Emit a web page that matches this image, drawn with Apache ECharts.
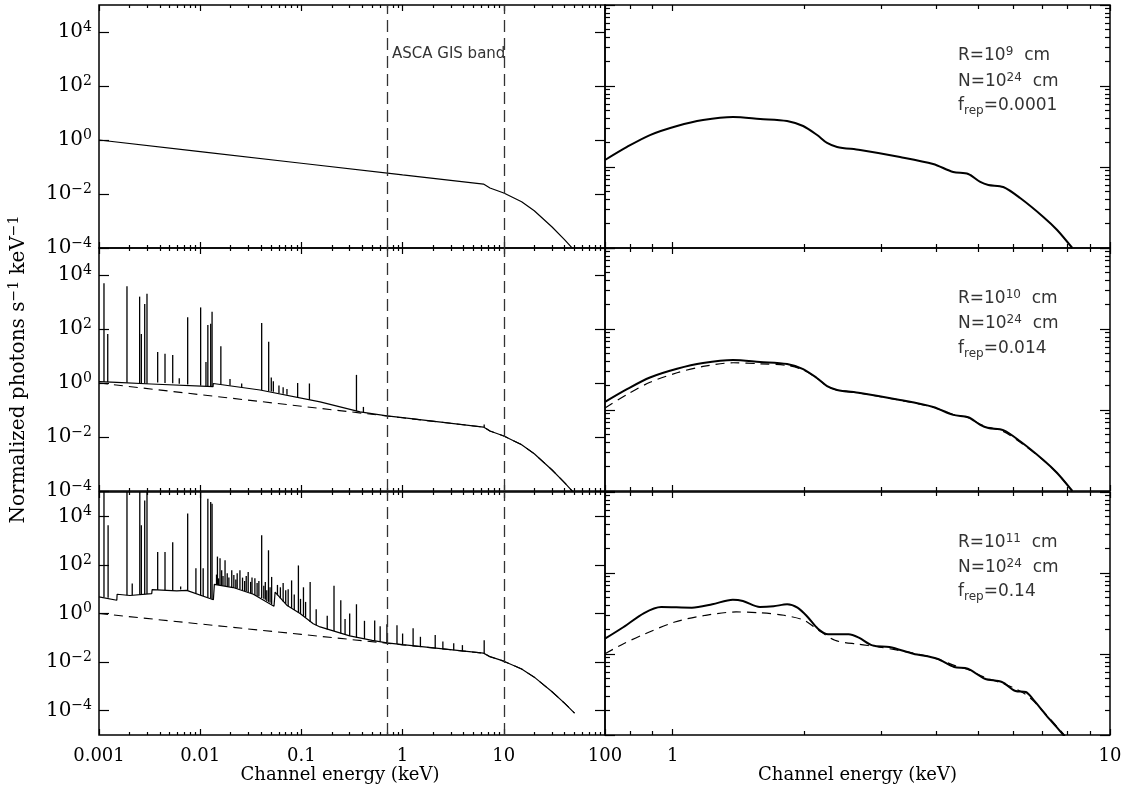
<!DOCTYPE html>
<html lang="en">
<head>
<meta charset="utf-8">
<title>Spectra</title>
<script src="https://cdn.jsdelivr.net/npm/echarts@6/dist/echarts.min.js"></script>
<style type="text/css">
  html, body { margin: 0; padding: 0; background: #fff; }
  #chart { width: 1125px; height: 790px; }
</style>
</head>
<body>
<div id="chart"></div>
<script type="text/javascript">
// ---- data ----
// left column: full band spectra (keV, normalized photons)
var contE = [0.001, 0.01, 0.1, 1, 6.3, 7.3, 10, 15, 20, 30, 40, 50];
var contV = [1.0, 0.37, 0.138, 0.0513, 0.0234, 0.0167, 0.0109, 0.0052, 0.0024, 6.0e-4, 2.0e-4, 8.0e-5];

var p2E = [0.001, 0.0015, 0.00327, 0.00328, 0.0134, 0.01345, 0.039, 0.153, 0.38, 0.7, 1, 6.3, 7.3, 10, 15, 20, 30, 40, 50];
var p2V = [1.12, 1.05, 0.92, 1.05, 0.73, 0.96, 0.55, 0.20, 0.085, 0.061, 0.052, 0.0234, 0.0167, 0.0109, 0.0052, 0.0024, 6.0e-4, 2.0e-4, 8.0e-5];
// emission lines, panel 2: energy, continuum level, peak
var s2E = [0.00112, 0.00122, 0.00189, 0.00252, 0.00262, 0.00283, 0.00298, 0.0038, 0.00449, 0.00535, 0.00621, 0.00752, 0.0101, 0.0114, 0.0119, 0.0127, 0.0131, 0.016, 0.0197, 0.0257, 0.0405, 0.0475, 0.0504, 0.0528, 0.06, 0.066, 0.072, 0.0918, 0.12, 0.35, 0.41, 6.4];
var s2B = [1.1, 1.1, 1.02, 0.97, 0.96, 0.95, 0.94, 1.04, 1.0, 0.97, 0.94, 0.88, 0.8, 0.76, 0.75, 0.74, 0.73, 0.88, 0.8, 0.68, 0.55, 0.5, 0.48, 0.47, 0.42, 0.4, 0.37, 0.3, 0.24, 0.09, 0.082, 0.023];
var s2T = [5000, 65, 3800, 1580, 65, 850, 2000, 14, 12, 11, 1.5, 270, 630, 6, 140, 155, 440, 23, 1.4, 0.95, 166, 34, 1.6, 1.15, 0.8, 0.7, 0.6, 1.0, 0.96, 2.0, 0.13, 0.029];

var p3E = [0.001, 0.0015, 0.00151, 0.00202, 0.00332, 0.00335, 0.00586, 0.0061, 0.00736, 0.0135, 0.0138, 0.0212, 0.0335, 0.0536, 0.055, 0.0717, 0.097, 0.131, 0.153, 0.3, 0.5, 0.7, 1, 6.3, 7.3, 10, 15, 20, 30, 40, 50];
var p3V = [4.8, 3.5, 6.2, 5.5, 6.6, 9.6, 8.5, 10, 8.9, 3.7, 15.8, 11.7, 6.2, 2.0, 7.6, 2.2, 1.0, 0.38, 0.28, 0.12, 0.078, 0.062, 0.052, 0.0234, 0.0167, 0.0109, 0.0052, 0.0024, 6.0e-4, 2.0e-4, 8.0e-5];
// strong lines, panel 3
var s3E = [0.00112, 0.00123, 0.00189, 0.00213, 0.00253, 0.00262, 0.00283, 0.00298, 0.0038, 0.00449, 0.00535, 0.00641, 0.00752, 0.00907, 0.0101, 0.0107, 0.0119, 0.0127, 0.0131, 0.0148, 0.0157, 0.0176, 0.0205, 0.0247, 0.0298, 0.0347, 0.0405, 0.0473, 0.0508, 0.08, 0.0934, 0.1048, 0.122, 0.21, 0.245, 0.35, 0.53, 0.7, 0.88, 1.27, 2.1, 3.9, 6.4];
var s3B = [4.7, 4.5, 5.6, 5.7, 5.9, 6.0, 6.2, 6.4, 9.3, 9.0, 8.6, 9.8, 8.7, 6.6, 5.6, 5.2, 4.5, 4.2, 3.9, 15, 14.5, 13.5, 12, 10, 7.6, 5.8, 4.3, 3.0, 2.4, 1.7, 1.1, 0.8, 0.45, 0.19, 0.15, 0.1, 0.075, 0.061, 0.055, 0.046, 0.037, 0.028, 0.0232];
var s3T = [3e5, 4300, 3e5, 17, 3e5, 4300, 45000, 3e5, 340, 340, 850, 13, 13000, 72, 3e5, 72, 53000, 39000, 33000, 220, 190, 155, 60, 60, 51, 28, 1650, 400, 32, 23, 95, 12, 20, 14, 3.5, 2.4, 0.52, 0.36, 0.33, 0.25, 0.13, 0.05, 0.08];
// weak line forest, panel 3
var w3E = [0.0145, 0.0152, 0.0163, 0.0168, 0.0185, 0.0192, 0.0215, 0.0225, 0.0232, 0.0262, 0.0275, 0.0285, 0.0315, 0.0325, 0.0365, 0.038, 0.0425, 0.044, 0.0455, 0.049, 0.058, 0.062, 0.066, 0.07, 0.074, 0.085, 0.098, 0.11, 0.14, 0.18, 0.27, 0.3, 0.42, 0.6, 1.0, 1.5, 2.5, 3.2];
var w3B = [15.2, 14.8, 14.3, 14, 13.2, 13, 11.5, 11, 10.6, 9, 8.4, 8, 6.8, 6.4, 5.3, 5, 4, 3.7, 3.3, 2.8, 5.6, 4.2, 3.1, 2.5, 2, 1.4, 0.95, 0.7, 0.33, 0.22, 0.13, 0.12, 0.09, 0.07, 0.052, 0.043, 0.035, 0.031];
var w3T = [40, 28, 60, 35, 45, 30, 38, 25, 45, 30, 22, 35, 20, 30, 18, 22, 14, 20, 9, 12, 15, 12, 18, 9, 10, 6, 4, 3, 1.5, 0.8, 0.6, 1.0, 0.5, 0.3, 0.15, 0.11, 0.07, 0.06];

// right column: folded through the GIS band
var r1E = [0.700, 0.786, 0.887, 1.023, 1.173, 1.374, 1.584, 1.826, 1.987, 2.139, 2.254, 2.376, 2.683, 3.31, 3.94, 4.38, 4.74, 5.05, 5.27, 5.70, 6.23, 7.04, 7.57, 8.20];
var r1V = [0.0122, 0.0177, 0.0248, 0.0321, 0.0380, 0.0414, 0.0392, 0.0370, 0.0321, 0.0248, 0.0198, 0.0177, 0.0162, 0.0133, 0.0109, 0.00867, 0.00820, 0.00653, 0.00600, 0.00566, 0.00414, 0.00242, 0.00167, 0.00100];
var r2V = [0.0126, 0.0181, 0.0252, 0.0323, 0.0380, 0.0413, 0.0391, 0.0369, 0.0320, 0.0247, 0.0197, 0.0177, 0.0162, 0.0133, 0.0109, 0.00870, 0.00815, 0.00655, 0.00600, 0.00565, 0.00412, 0.00242, 0.00167, 0.00100];
var r2D = [0.0106, 0.0155, 0.0220, 0.0288, 0.0345, 0.0383, 0.0372, 0.0356, 0.0313, 0.0245, 0.0197, 0.0176, 0.0161, 0.0132, 0.0108, 0.00880, 0.00805, 0.00665, 0.00610, 0.00545, 0.00400, 0.00240, 0.00167, 0.00100];
var r3E = [0.700, 0.772, 0.860, 0.941, 1.106, 1.232, 1.372, 1.447, 1.583, 1.701, 1.827, 1.929, 2.035, 2.148, 2.266, 2.525, 2.665, 2.862, 3.130, 3.550, 4.024, 4.402, 4.728, 5.174, 5.660, 6.081, 6.416, 6.650, 7.148, 7.543, 7.887];
var r3V = [0.01545, 0.02153, 0.03206, 0.03802, 0.03733, 0.04111, 0.04677, 0.04508, 0.03802, 0.03882, 0.04111, 0.03733, 0.02864, 0.02051, 0.01750, 0.01750, 0.01589, 0.01279, 0.01219, 0.01009, 0.00875, 0.00692, 0.00659, 0.00495, 0.00451, 0.00349, 0.00340, 0.00281, 0.00175, 0.00126, 0.00095];
var r3DE = [0.700, 0.772, 0.860, 1.011, 1.189, 1.396, 1.583, 1.796, 1.999, 2.148, 2.349, 2.665, 2.966, 3.550, 4.024, 4.402, 4.728, 5.174, 5.660, 6.081, 6.416, 6.650, 7.148, 7.543, 7.887];
var r3D = [0.01009, 0.01340, 0.01750, 0.02483, 0.03006, 0.03304, 0.03228, 0.03006, 0.02606, 0.01995, 0.01476, 0.01318, 0.01219, 0.01023, 0.00871, 0.00724, 0.00646, 0.00513, 0.00437, 0.00372, 0.00316, 0.00269, 0.00178, 0.00129, 0.00098];

var gisBand = [0.7, 10];

// ticks
var leftXMajor = [0.001, 0.01, 0.1, 1, 10, 100];
var leftYMajor = [1e-4, 1e-2, 1, 1e2, 1e4];
var rightXMajor = [1, 10];
var rightXMinor = [0.8, 0.9, 2, 3, 4, 5, 6, 7, 8, 9];
var rightYMajor = [0.001, 0.01, 0.1, 1];
var leftXMinor = [], rightYMinor = [];
[0.001, 0.01, 0.1, 1, 10].forEach(function (d) {
  for (var k = 2; k <= 9; k++) leftXMinor.push(+(k * d).toPrecision(2));
});
[0.001, 0.01, 0.1].forEach(function (d) {
  for (var k = 2; k <= 9; k++) rightYMinor.push(+(k * d).toPrecision(2));
});

var serif = "'DejaVu Serif', serif";
var sans = "'DejaVu Sans', sans-serif";

var grids = [], xAxes = [], yAxes = [], series = [];
var tickLine = { color: '#000', width: 1.2 };

function tickAxis(g, pos, range, ticks, len, label) {
  return {
    type: 'log', logBase: 10, gridIndex: g, position: pos,
    min: range[0], max: range[1],
    axisLine: { show: false }, splitLine: { show: false },
    axisTick: { show: ticks.length > 0, inside: true, length: len, customValues: ticks, lineStyle: tickLine },
    axisLabel: label || { show: false },
    axisPointer: { show: false }, silent: true
  };
}

function addPanel(rect, xr, yr, xt, yt, opt) {
  var g = grids.length;
  grids.push({ left: rect[0], top: rect[1], width: rect[2], height: rect[3], show: true,
    borderColor: '#000', borderWidth: 1.5, backgroundColor: 'transparent', outerBoundsMode: 'none' });
  xAxes.push(tickAxis(g, 'bottom', xr, xt[0], xt[2], opt.xLabel));
  xAxes.push(tickAxis(g, 'bottom', xr, xt[1], xt[3]));
  xAxes.push(tickAxis(g, 'top', xr, xt[0], xt[2]));
  xAxes.push(tickAxis(g, 'top', xr, xt[1], xt[3]));
  yAxes.push(tickAxis(g, 'left', yr, yt[0], yt[2], opt.yLabel));
  yAxes.push(tickAxis(g, 'left', yr, yt[1], yt[3]));
  yAxes.push(tickAxis(g, 'right', yr, yt[0], yt[2]));
  yAxes.push(tickAxis(g, 'right', yr, yt[1], yt[3]));
  if (opt.xName) {
    var xa = xAxes[4 * g];
    xa.name = opt.xName; xa.nameLocation = 'middle'; xa.nameGap = 29;
    xa.nameTextStyle = { fontFamily: serif, fontSize: 18, color: '#000', padding: opt.xNamePad || 0 };
  }
  if (opt.yName) {
    var ya = yAxes[4 * g];
    ya.name = opt.yName; ya.nameLocation = 'middle'; ya.nameGap = 68;
    ya.nameTextStyle = { fontFamily: serif, fontSize: 20, color: '#000',
      rich: { sup: { fontSize: 14, fontFamily: serif, color: '#000', padding: [0, 0, 10, 0] } } };
  }
  return g;
}

function pairs(xs, ys) {
  return xs.map(function (x, i) { return [x, ys[i]]; });
}

function lineSeries(g, xs, ys, dashed, width, smooth) {
  return {
    type: 'line', xAxisIndex: 4 * g, yAxisIndex: 4 * g, data: pairs(xs, ys),
    showSymbol: false, symbol: 'none', smooth: smooth || false, clip: true, silent: true,
    lineStyle: { color: '#000', width: width, type: dashed ? [9, 6] : 'solid' },
    z: dashed ? 2 : 3
  };
}

function spikeSeries(g, es, bs, ts) {
  return {
    type: 'custom', xAxisIndex: 4 * g, yAxisIndex: 4 * g, clip: true, silent: true, z: 3,
    data: es.map(function (e, i) { return [e, bs[i], ts[i]]; }),
    encode: { x: 0, y: [1, 2] },
    renderItem: function (params, api) {
      var a = api.coord([api.value(0), api.value(1)]);
      var b = api.coord([api.value(0), api.value(2)]);
      return { type: 'line', shape: { x1: a[0], y1: a[1], x2: b[0], y2: b[1] },
        style: { stroke: '#000', lineWidth: 1.3 } };
    }
  };
}

function bandLines() {
  return { silent: true, symbol: 'none', label: { show: false },
    lineStyle: { type: [12, 6], color: '#333', width: 1.3 },
    data: gisBand.map(function (e) { return { xAxis: e }; }) };
}

var supRich = { sup: { fontSize: 14, fontFamily: serif, color: '#000', padding: [0, 0, 10, 0] } };
var yLab = { show: true, customValues: leftYMajor, margin: 7, color: '#000', fontFamily: serif, fontSize: 20,
  formatter: function (v) {
    var e = Math.round(Math.log10(v));
    return '10{sup|' + (e < 0 ? '\u2212' + (-e) : e) + '}';
  }, rich: supRich };
var xLabL = { show: true, customValues: leftXMajor, margin: 12, color: '#000', fontFamily: serif, fontSize: 18,
  formatter: function (v) { return String(+(+v).toPrecision(3)); } };
var xLabR = { show: true, customValues: rightXMajor, margin: 12, color: '#000', fontFamily: serif, fontSize: 18,
  formatter: function (v) { return String(+(+v).toPrecision(3)); } };

var colL = [99, 506], colR = [605, 505];
var rowTop = [5, 248, 492], rowH = 243;
var leftXR = [0.001, 100], rightXR = [0.7, 10];
var leftXT = [leftXMajor, leftXMinor, 6, 3];
var rightXT = [rightXMajor, rightXMinor, 6, 4];
var leftYT = [leftYMajor, [], 10, 0];
var rightYT = [rightYMajor, rightYMinor, 10, 5];
var rightYR = [0.001, 1];

var g0 = addPanel([colL[0], rowTop[0], colL[1], rowH], leftXR, [1e-4, 1e5], leftXT, leftYT, { yLabel: yLab });
var g1 = addPanel([colR[0], rowTop[0], colR[1], rowH], rightXR, rightYR, rightXT, rightYT, {});
var g2 = addPanel([colL[0], rowTop[1], colL[1], rowH], leftXR, [1e-4, 1e5], leftXT, leftYT,
  { yLabel: yLab, yName: 'Normalized photons s{sup|\u22121} keV{sup|\u22121}' });
var g3 = addPanel([colR[0], rowTop[1], colR[1], rowH], rightXR, rightYR, rightXT, rightYT, {});
var g4 = addPanel([colL[0], rowTop[2], colL[1], rowH], leftXR, [1e-5, 1e5], leftXT, leftYT,
  { yLabel: yLab, xLabel: xLabL, xName: 'Channel energy (keV)', xNamePad: [0, 24, 0, 0] });
var g5 = addPanel([colR[0], rowTop[2], colR[1], rowH], rightXR, rightYR, rightXT, rightYT,
  { xLabel: xLabR, xName: 'Channel energy (keV)' });

// left column
var s = lineSeries(g0, contE, contV, false, 1.2);
s.markLine = bandLines();
series.push(s);
s = lineSeries(g2, p2E, p2V, false, 1.2);
s.markLine = bandLines();
series.push(s);
series.push(lineSeries(g2, contE, contV, true, 1.1));
series.push(spikeSeries(g2, s2E, s2B, s2T));
s = lineSeries(g4, p3E, p3V, false, 1.2);
s.markLine = bandLines();
series.push(s);
series.push(lineSeries(g4, contE, contV, true, 1.1));
series.push(spikeSeries(g4, s3E, s3B, s3T));
series.push(spikeSeries(g4, w3E, w3B, w3T));

// right column
series.push(lineSeries(g1, r1E, r1V, false, 2, 0.3));
series.push(lineSeries(g3, r1E, r2V, false, 2, 0.3));
series.push(lineSeries(g3, r1E, r2D, true, 1.2, 0.3));
series.push(lineSeries(g5, r3E, r3V, false, 2, 0.3));
series.push(lineSeries(g5, r3DE, r3D, true, 1.2, 0.3));

// annotations
var annRich = {
  sup: { fontSize: 12, fontFamily: sans, fill: '#333', padding: [0, 0, 9, 0] },
  sub: { fontSize: 12, fontFamily: sans, fill: '#333', padding: [9, 0, 0, 0] }
};
function note(x, y, txt, size) {
  return { type: 'text', x: x, y: y, silent: true,
    style: { text: txt, fill: '#333', font: (size || 17) + 'px ' + sans, verticalAlign: 'middle', rich: annRich } };
}
var notes = [
  note(392, 54, 'ASCA GIS band', 15),
  note(958, 56, 'R=10{sup|9}  cm'), note(958, 82, 'N=10{sup|24}  cm'), note(958, 106, 'f{sub|rep}=0.0001'),
  note(958, 299, 'R=10{sup|10}  cm'), note(958, 324, 'N=10{sup|24}  cm'), note(958, 349, 'f{sub|rep}=0.014'),
  note(958, 543, 'R=10{sup|11}  cm'), note(958, 568, 'N=10{sup|24}  cm'), note(958, 592, 'f{sub|rep}=0.14')
];

var chart = echarts.init(document.getElementById('chart'));
chart.setOption({
  animation: false,
  backgroundColor: '#fff',
  textStyle: { fontFamily: serif },
  grid: grids,
  xAxis: xAxes,
  yAxis: yAxes,
  series: series,
  graphic: notes
});
</script>
</body>
</html>
